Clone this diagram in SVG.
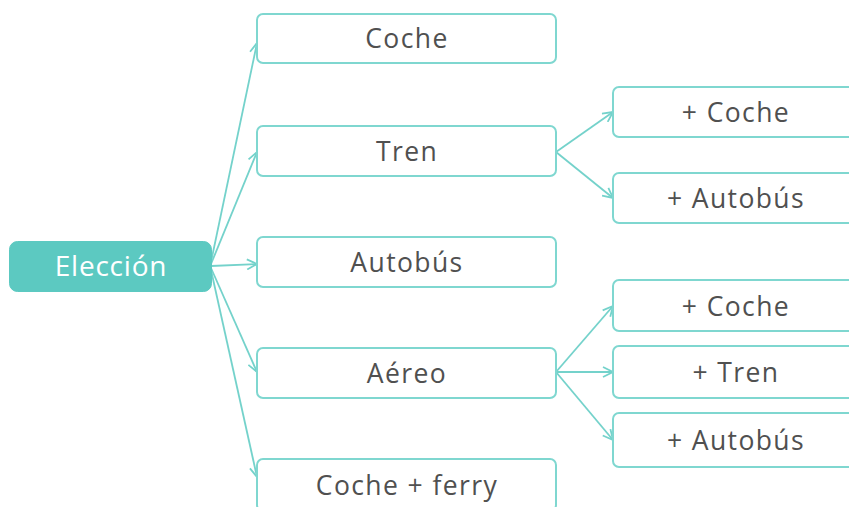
<svg xmlns="http://www.w3.org/2000/svg" width="849" height="507" viewBox="0 0 849 507">
<defs>
<style>
.box{fill:#ffffff;stroke:#7fd7d0;stroke-width:2}
.root{fill:#5cc9c1;stroke:#5cc9c1;stroke-width:1}
.t{font-family:"Open Sans","Liberation Sans",sans-serif;font-size:26.5px;fill:#505050;text-anchor:middle;letter-spacing:1.4px}
.rt{font-family:"Open Sans","Liberation Sans",sans-serif;font-size:28px;fill:#ffffff;text-anchor:middle;letter-spacing:0.8px}
.c{fill:none;stroke:#74d2cb;stroke-width:1.8}
</style>
<marker id="arr" viewBox="0 0 12 12" refX="11" refY="6" markerWidth="12" markerHeight="12" markerUnits="userSpaceOnUse" orient="auto">
<path d="M1,1 L11,6 L1,11" fill="none" stroke="#74d2cb" stroke-width="1.8"/>
</marker>
</defs>
<rect width="849" height="507" fill="#ffffff"/>
<g id="connectors">
<line class="c" x1="211" y1="262" x2="257" y2="43" marker-end="url(#arr)"/>
<line class="c" x1="211" y1="264" x2="257" y2="152" marker-end="url(#arr)"/>
<line class="c" x1="211" y1="266" x2="257" y2="264" marker-end="url(#arr)"/>
<line class="c" x1="211" y1="268" x2="257" y2="372" marker-end="url(#arr)"/>
<line class="c" x1="211" y1="270" x2="257" y2="477" marker-end="url(#arr)"/>
<line class="c" x1="556" y1="152" x2="613" y2="112" marker-end="url(#arr)"/>
<line class="c" x1="556" y1="152" x2="613" y2="198" marker-end="url(#arr)"/>
<line class="c" x1="556" y1="372" x2="613" y2="306" marker-end="url(#arr)"/>
<line class="c" x1="556" y1="372" x2="613" y2="372" marker-end="url(#arr)"/>
<line class="c" x1="556" y1="372" x2="613" y2="440" marker-end="url(#arr)"/>
</g>
<g id="eleccion">
<rect class="root" x="9.5" y="241.5" width="202" height="50" rx="8"/>
<text class="rt" x="111" y="276">Elección</text>
</g>
<g id="coche">
<rect class="box" x="257" y="14" width="299" height="49" rx="6"/>
<text class="t" x="407" y="48">Coche</text>
</g>
<g id="tren">
<rect class="box" x="257" y="126" width="299" height="50" rx="6"/>
<text class="t" x="407" y="161">Tren</text>
</g>
<g id="autobus">
<rect class="box" x="257" y="237" width="299" height="50" rx="6"/>
<text class="t" x="407" y="272">Autobús</text>
</g>
<g id="aereo">
<rect class="box" x="257" y="348" width="299" height="50" rx="6"/>
<text class="t" x="407" y="383">Aéreo</text>
</g>
<g id="cocheferry">
<rect class="box" x="257" y="459" width="299" height="52" rx="6"/>
<text class="t" x="407" y="495">Coche + ferry</text>
</g>
<g id="tren-coche">
<rect class="box" x="613" y="87" width="244" height="50" rx="6"/>
<text class="t" x="736" y="122">+ Coche</text>
</g>
<g id="tren-autobus">
<rect class="box" x="613" y="173" width="244" height="50" rx="6"/>
<text class="t" x="736" y="208">+ Autobús</text>
</g>
<g id="aereo-coche">
<rect class="box" x="613" y="280" width="244" height="51" rx="6"/>
<text class="t" x="736" y="316">+ Coche</text>
</g>
<g id="aereo-tren">
<rect class="box" x="613" y="346" width="244" height="52" rx="6"/>
<text class="t" x="736" y="382">+ Tren</text>
</g>
<g id="aereo-autobus">
<rect class="box" x="613" y="413" width="244" height="54" rx="6"/>
<text class="t" x="736" y="450">+ Autobús</text>
</g>
</svg>
